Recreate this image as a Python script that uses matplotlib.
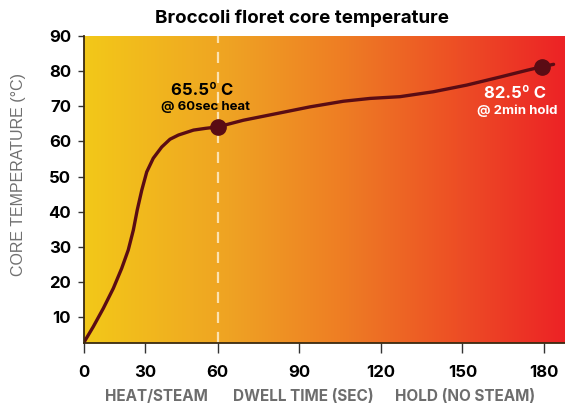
"""Broccoli floret core temperature chart"""

import numpy as np
import matplotlib
matplotlib.use('Agg')
import matplotlib.pyplot as plt
from matplotlib.colors import LinearSegmentedColormap

# ------------- data ------------- #
time_s = [0, 4.7, 9.6, 14.5, 18.6, 21.8, 24.3, 26.2, 28.4, 30.7, 33.4,
          36.9, 40.3, 43.8, 50, 55, 60, 69.4, 81.7, 93.9, 106.2, 116, 127,
          139.3, 151.6, 163.9, 173.7, 179.2, 183.5]
temp_c = [2.7, 7.3, 12.5, 18.2, 23.9, 29.1, 34.8, 40.5, 46.1, 51.3, 55.2,
          58.4, 60.6, 61.8, 63.2, 63.7, 64.1, 66.0, 67.9, 69.8, 71.4, 72.2,
          72.7, 74.1, 76.0, 78.3, 80.2, 81.2, 81.9]
mark_t = [60, 179.2]
mark_v = [64.1, 81.2]
mark_text = ['65.5º C', '82.5º C']
mark_sub = ['@ 60sec heat', '@ 2min hold']
xticks = [0, 30, 60, 90, 120, 150, 180]
yticks = [10, 20, 30, 40, 50, 60, 70, 80, 90]
phase_labels = ['HEAT/STEAM', 'DWELL TIME (SEC)', 'HOLD (NO STEAM)']

# the original axis is not evenly spaced below 60 s
knots_t = [0, 30, 60, 180, 300]
knots_u = [0, 61.4, 134.1, 460.4, 786.7]


def fwd(x):
    return np.interp(x, knots_t, knots_u)


def inv(u):
    return np.interp(u, knots_u, knots_t)


plt.rcParams['font.family'] = ['Inter', 'DejaVu Sans']
line_col = '#5a0c14'

fig = plt.figure(figsize=(5.65, 4.07), dpi=100)
ax = fig.add_axes([0.148, 0.157, 0.852, 0.755])
ax.set_xscale('function', functions=(fwd, inv))
ax.set_xlim(0, 187.7)
ax.set_ylim(2.65, 90)

# background gradient
cmap = LinearSegmentedColormap.from_list(
    'heat', [(0, '#f3c819'), (0.3, '#efa323'), (0.55, '#ee7b24'),
             (1, '#ec2226')])
grad = np.linspace(0, 1, 256).reshape(1, -1)
ax.imshow(grad, cmap=cmap, aspect='auto', extent=[0, 1, 0, 1],
          transform=ax.transAxes, zorder=0)

ax.axvline(60, color='#fbe2b0', lw=1.6, dashes=(5, 4), zorder=1)
ax.plot(time_s, temp_c, color=line_col, lw=2.4, zorder=2,
        solid_capstyle='round', solid_joinstyle='round')
ax.plot(mark_t, mark_v, 'o', color=line_col, ms=11, zorder=3)

ax.annotate(mark_text[0], (mark_t[0], mark_v[0]), xytext=(-11, 26),
            textcoords='offset points', ha='center', va='center',
            fontsize=12, fontweight='bold', color='black')
ax.annotate(mark_sub[0], (mark_t[0], mark_v[0]), xytext=(-9, 14.5),
            textcoords='offset points', ha='center', va='center',
            fontsize=9.5, fontweight='bold', color='black')
ax.annotate(mark_text[1], (mark_t[1], mark_v[1]), xytext=(-19, -19),
            textcoords='offset points', ha='center', va='center',
            fontsize=12, fontweight='bold', color='white')
ax.annotate(mark_sub[1], (mark_t[1], mark_v[1]), xytext=(-18, -31.5),
            textcoords='offset points', ha='center', va='center',
            fontsize=9.5, fontweight='bold', color='white')

for s in ['top', 'right']:
    ax.spines[s].set_visible(False)
for s in ['left', 'bottom']:
    ax.spines[s].set_color('#3a2a10')
    ax.spines[s].set_linewidth(1.3)

ax.set_xticks(xticks)
ax.set_yticks(yticks)
ax.tick_params(axis='x', length=7, width=1, color='#333333', pad=9,
               labelsize=12)
ax.tick_params(axis='y', length=4, width=1, color='#333333', pad=5,
               labelsize=12)
for lab in ax.get_xticklabels() + ax.get_yticklabels():
    lab.set_fontweight('bold')

fig.text(0.535, 0.956, 'Broccoli floret core temperature', ha='center',
         va='center', fontsize=13.5, fontweight='bold')
fig.text(0.032, 0.572, 'CORE TEMPERATURE (°C)', rotation=90, ha='center',
         va='center', fontsize=11.5, color='#707070',
         family=['Liberation Sans', 'DejaVu Sans'])
for lab, xp in zip(phase_labels, [0.276, 0.537, 0.823]):
    fig.text(xp, 0.027, lab, ha='center', va='center', fontsize=11,
             fontweight='bold', color='#6d6d6d')

plt.savefig('out.png', dpi=100)
